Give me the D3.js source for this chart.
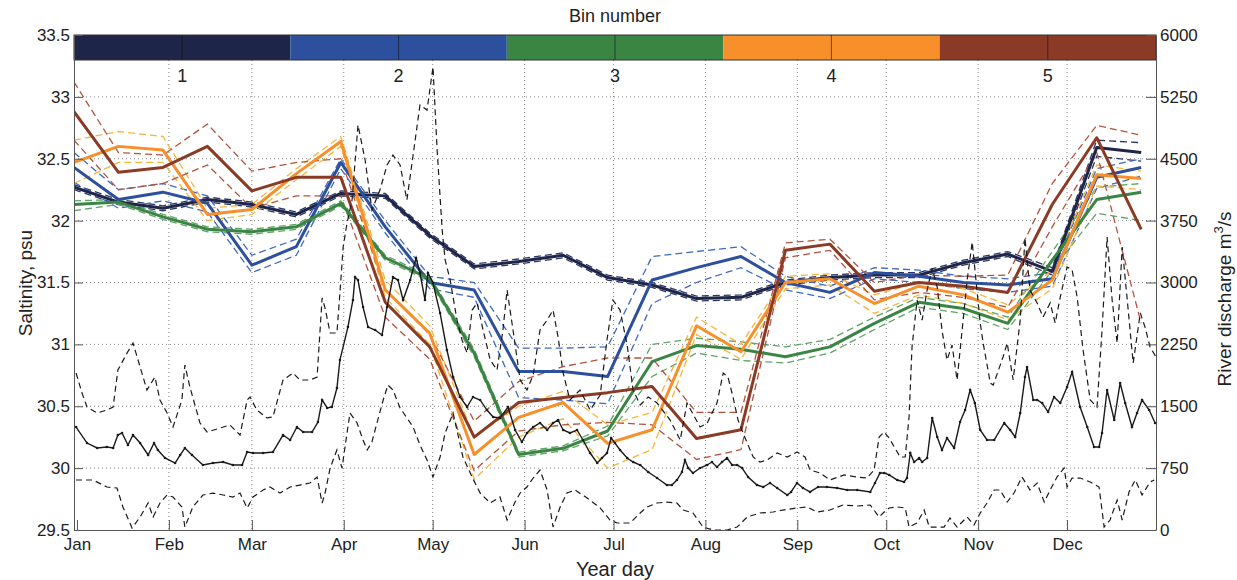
<!DOCTYPE html>
<html>
<head>
<meta charset="utf-8">
<script src="https://cdn.jsdelivr.net/npm/d3@7"></script>
<style>
    body { margin: 0; background: #fff; }
    svg { font-family: "Liberation Sans", Arial, sans-serif; }
</style>
</head>
<body>
<svg id="SVG_CONTAINER" width="1237" height="580"></svg>
<script>
let d3 = window.d3;

// ---- data ----
const months    = ["Jan","Feb","Mar","Apr","May","Jun","Jul","Aug","Sep","Oct","Nov","Dec"];
const monthDays = [1, 32, 60, 91, 121, 152, 182, 213, 244, 274, 305, 335];

const binNames  = ["1", "2", "3", "4", "5"];
const binDays   = [0,15,30,45,60,75,90,105,120,135,150,165,180,195,210,225,240,255,270,285,300,315,330,345,360];

const bin1Mean  = [32.27,32.15,32.10,32.17,32.13,32.05,32.22,32.20,31.88,31.63,31.67,31.72,31.54,31.48,31.37,31.38,31.50,31.54,31.56,31.56,31.66,31.73,31.59,32.59,32.55];
const bin1Upper = [32.29,32.17,32.12,32.19,32.15,32.07,32.24,32.22,31.90,31.65,31.69,31.74,31.56,31.50,31.39,31.40,31.52,31.56,31.58,31.58,31.68,31.75,31.62,32.65,32.63];
const bin1Lower = [32.25,32.13,32.08,32.15,32.11,32.03,32.20,32.18,31.86,31.61,31.65,31.70,31.52,31.46,31.35,31.36,31.48,31.52,31.54,31.54,31.64,31.71,31.56,32.52,32.48];

const bin2Mean  = [32.43,32.17,32.23,32.14,31.64,31.79,32.47,31.95,31.50,31.44,30.78,30.78,30.74,31.52,31.62,31.71,31.50,31.42,31.58,31.55,31.50,31.48,31.53,32.35,32.43];
const bin2Upper = [32.55,32.25,32.30,32.20,31.72,31.85,32.50,32.00,31.55,31.50,30.97,30.97,30.98,31.71,31.75,31.79,31.55,31.47,31.62,31.60,31.55,31.53,31.58,32.42,32.50];
const bin2Lower = [32.31,32.10,32.16,32.07,31.58,31.72,32.42,31.90,31.45,31.38,30.57,30.55,30.52,31.33,31.50,31.62,31.44,31.37,31.53,31.50,31.45,31.42,31.47,32.26,32.36];

const bin3Mean  = [32.13,32.15,32.03,31.93,31.91,31.95,32.14,31.70,31.53,30.93,30.11,30.16,30.30,30.86,30.99,30.96,30.90,30.98,31.17,31.34,31.29,31.17,31.68,32.17,32.23];
const bin3Upper = [32.16,32.17,32.05,31.95,31.93,31.97,32.16,31.72,31.55,30.96,30.13,30.18,30.34,31.00,31.05,31.02,30.98,31.04,31.22,31.38,31.33,31.22,31.75,32.27,32.30];
const bin3Lower = [32.08,32.13,32.01,31.91,31.89,31.93,32.12,31.68,31.51,30.90,30.09,30.14,30.26,30.74,30.93,30.87,30.85,30.93,31.12,31.30,31.25,31.12,31.60,32.06,32.00];

const bin4Mean  = [32.47,32.60,32.57,32.05,32.09,32.38,32.64,31.44,31.09,30.11,30.41,30.53,30.20,30.31,31.15,30.94,31.50,31.53,31.33,31.47,31.40,31.26,31.52,32.37,32.34];
const bin4Upper = [32.65,32.72,32.68,32.10,32.13,32.42,32.68,31.52,31.15,30.25,30.50,30.62,30.35,30.45,31.22,31.00,31.55,31.57,31.40,31.50,31.45,31.32,31.60,32.45,32.40];
const bin4Lower = [32.30,32.47,32.47,32.00,32.05,32.33,32.60,31.38,31.00,29.91,30.25,30.40,30.00,30.15,31.08,30.88,31.45,31.48,31.25,31.40,31.33,31.20,31.45,32.28,32.25];

const bin5Mean  = [32.88,32.39,32.43,32.60,32.24,32.35,32.35,31.34,30.98,30.25,30.53,30.57,30.61,30.66,30.24,30.31,31.76,31.81,31.43,31.50,31.47,31.42,32.13,32.67,31.93];
const bin5Upper = [33.12,32.55,32.53,32.78,32.40,32.47,32.50,31.44,31.08,30.38,30.70,30.82,30.89,30.89,30.45,30.45,31.82,31.85,31.50,31.56,31.55,31.56,32.30,32.77,32.69];
const bin5Lower = [32.65,32.25,32.30,32.45,32.10,32.20,32.20,31.22,30.88,29.98,30.30,30.35,30.37,30.35,30.07,30.15,31.70,31.76,31.36,31.42,31.38,31.30,31.95,32.55,31.17];

// river discharge (day of year, m3/s)
const flowDays = [0.7,4.4,7.8,11.1,13.2,14.8,16.2,18.2,19.9,22.3,25,27,28.3,30.7,34.1,35.8,37.4,39.8,43.5,46.9,50.3,53.6,56.7,58.4,60.4,63.8,67.1,70.5,72.9,75.2,77.3,80.3,82.3,83.7,85.4,87,88.7,89.7,92.4,94.1,94.8,95.8,97.5,99.2,101.6,103.9,105.6,107.6,109.3,111,113.4,115.4,116.7,118.4,119.4,121.1,123.5,125.8,127.9,130.2,132.6,134.6,137,139.3,141.4,143.7,146.4,148.8,151.1,152.8,154.9,157.2,159.6,161.6,163.3,165,167.3,169.7,171.7,174.1,176.5,178.1,179.8,181.2,182.5,184.2,186.6,188.6,191,193.7,196.7,200,201.7,203.4,205.1,206.1,207.2,208.8,211.2,213.6,215.2,216.9,218.6,220.3,222,223.7,225.4,227.4,230.4,232.5,234.8,237.2,240.6,241.9,243.9,245.9,248.3,251,254,257.4,260.8,264.2,268.6,270.2,271.9,273.3,275,277.7,280,281,282.1,283.4,285.1,286.1,287.8,289.5,291.2,292.8,294.5,296.9,298.9,300.6,302.3,303.9,305.7,308,310.4,313.8,315.8,317.5,319.2,320.8,321.5,323.6,324.9,326.6,328.6,330.6,332.7,335,336.7,339.4,341.8,344.1,345.8,346.8,348.5,350.9,352.9,354.6,356.9,358.6,360.3,362.7,364.7];
const flowMean = [1248,1054,994,1006,994,1151,1176,1030,1151,1054,909,1054,970,873,812,909,994,909,788,812,824,788,788,945,933,933,945,1151,1091,1248,1188,1188,1309,1576,1479,1491,1721,2060,2460,2788,3066,3030,2703,2460,2424,2363,2703,3066,3030,2788,3030,3296,3115,2788,3115,2994,2630,2182,1854,1612,1491,1612,1576,1454,1370,1357,1491,1212,1067,1176,1248,1297,1212,1297,1333,1212,1176,1212,1091,933,812,873,933,1115,1054,970,873,824,788,703,630,545,545,606,703,848,751,691,751,788,824,764,824,873,788,788,751,642,545,521,570,509,424,461,570,509,461,521,521,509,485,485,461,570,691,691,667,606,582,630,933,824,873,824,873,1357,1127,970,1115,994,1309,1454,1697,1539,1212,1091,1091,1297,1212,1127,1418,1854,1976,1576,1576,1539,1430,1612,1539,1733,1915,1491,1248,1006,1006,1176,1697,1333,1782,1539,1248,1418,1576,1454,1297];

const upperDays = [0.7,2.7,4.4,7.8,11.1,13.2,14.8,17.9,19.9,22.3,24.6,27.3,29,31.4,33.4,36.4,37.4,39.1,42.5,44.9,49.3,52.6,56,58.4,59.4,61.7,65.1,67.1,70.5,73.9,76.2,79.6,82,83.7,84.7,86.4,88.7,89.7,90.8,92.1,93.8,95.8,98.2,100.5,103.2,105.6,107.6,110,112.3,114.4,116.7,119.1,121.1,122.5,124.2,125.2,126.9,129.2,130.9,132.6,134.3,136,138,140.4,142.7,144.7,146.1,148.1,150.5,152.8,154.9,157.2,159.6,161.6,163.3,165,167.3,170.7,174.1,177.5,179.8,181.8,184.2,186.6,188.6,191,193.7,196.7,201.1,204.5,206.8,211.2,213.6,216.9,219,220.6,222.3,224,225.7,229.1,231.4,233.8,237.2,240.6,243.9,246.6,248.3,251.7,255,259.8,264.2,267.5,269.9,271.6,273.3,275,276.7,278.7,280.4,281.7,282.7,284.4,286.1,287.8,289.5,291.2,292.8,294.5,296.2,297.9,299.6,301.3,303,304.6,305.7,306.7,309.1,310.1,313.4,314.8,316.8,319.2,320.8,322.5,324.9,326.9,329.3,331,332.7,335,336.7,338.4,340.4,342.8,345.1,346.8,348.5,350.2,351.9,353.6,355.3,357.3,359.7,361.3,363,365];
const flowUpper = [1903,1660,1491,1418,1454,1491,1939,2145,2266,1976,1697,1854,1576,1418,1248,1576,2000,1733,1297,1188,1236,1273,1151,1576,1612,1454,1358,1370,1818,1903,1818,1818,1854,2812,2690,2388,2388,2872,3430,3721,4000,4909,4485,3879,4121,4424,4545,4424,4000,4545,5151,5090,5612,4606,3636,3273,3030,2545,2303,2145,2666,2751,2424,2060,1939,2424,2909,2424,1818,1697,1879,2424,2545,2666,2339,1903,1576,1697,1454,1636,2303,2788,2666,2242,1697,1515,1612,1539,1333,1091,1539,1248,1297,1539,1903,1854,1612,1333,1176,885,824,848,933,885,945,885,727,691,606,667,642,630,727,1127,1188,1115,1006,885,885,1370,2218,2788,2545,2909,3175,2945,2424,2060,2242,1818,2424,3030,3490,2909,2509,2266,1782,1757,2097,2266,1818,2545,3539,2909,2751,2581,2751,2509,2824,3188,3151,2824,2182,1576,1491,2424,3551,2788,2266,3430,2788,2024,2630,2460,2218,2097];

const lowerDays = [0.7,6.4,11.1,14.5,16.5,19.6,22.3,25,26.7,29,31.4,33.4,36.4,37.4,40.1,43.5,46.9,50.3,53.6,56,58.4,60.4,63.8,66.1,69.5,72.9,76.2,79.6,82,83.7,84.7,86.4,88.7,90.4,92.1,93.1,95.5,97.5,98.9,100.5,102.2,104.3,105.9,107.6,110,114.4,116.7,119.1,121.1,123.5,125.2,127.9,131.2,134.3,137,140.4,143.7,146.1,148.8,150.5,152.8,154.9,157.2,159.6,161.6,164,166.3,169,173.1,177.5,180.8,183.2,187.6,191,193.3,196.7,200,203.4,205.5,208.8,212.2,215.6,220.3,223.7,227.1,231.4,235.8,239.2,243.9,247.3,250.7,255,259.4,264.2,268.6,271.6,273.3,275,277.7,280.4,281.7,284.4,286.8,288.5,293.5,295.5,297.9,301.3,303.6,305.7,308,310.4,312.4,314.8,317.1,319.8,322.5,324.9,327.3,329.3,331.6,334,335,336.7,339.4,342.8,345.8,347.5,349.5,351.9,353.6,355.9,358,360.3,363,364.4];
const flowLower = [606,606,521,509,279,24,158,327,158,327,424,400,279,36,279,424,448,424,400,448,267,400,485,521,448,521,545,570,642,327,448,751,970,751,1176,1418,1297,1091,970,1067,1297,1576,1757,1697,1479,1248,1030,848,642,885,1176,1418,885,642,448,327,400,121,339,448,521,630,727,485,36,279,448,485,388,267,121,85,85,206,279,327,339,327,242,206,36,0,0,36,158,206,218,242,267,279,218,242,303,291,303,158,218,267,279,267,36,85,242,36,36,145,36,158,61,206,327,485,485,339,448,642,485,570,339,485,642,751,521,630,630,582,521,36,121,364,121,461,606,424,582,606];

// ---- layout ----
const MARGIN = {
    "LEFT": 74,
    "RIGHT": 81,
    "TOP": 35,
    "BOTTOM": 50,
};

const   width  = 1237,
        height = 580;

const CBAR_H = 25;

window.onload = function () {
    setup();
};

let setup = function () {
    let svg = d3.select("#SVG_CONTAINER");
    let Chart = new chart(svg);
};

let chart = function (svg) {

    let bins = [
        { mean: bin1Mean, upper: bin1Upper, lower: bin1Lower, color: "#1e2548", dash: "#2b3563" },
        { mean: bin2Mean, upper: bin2Upper, lower: bin2Lower, color: "#2c4f9e", dash: "#3f69c2" },
        { mean: bin3Mean, upper: bin3Upper, lower: bin3Lower, color: "#3b8544", dash: "#5ea464" },
        { mean: bin4Mean, upper: bin4Upper, lower: bin4Lower, color: "#f7902b", dash: "#f7b53a" },
        { mean: bin5Mean, upper: bin5Upper, lower: bin5Lower, color: "#8b3a26", dash: "#b4533c" },
    ];

    let left = MARGIN.LEFT, right = width - MARGIN.RIGHT;
    let top = MARGIN.TOP, bottom = height - MARGIN.BOTTOM;

    let xScale = d3.scaleLinear().domain([0, 365]).range([left, right]);
    let yScale = d3.scaleLinear().domain([29.5, 33.5]).range([bottom, top]);
    let qScale = d3.scaleLinear().domain([0, 6000]).range([bottom, top]);

    svg.append("defs").append("clipPath").attr("id", "plotClip")
        .append("rect")
        .attr("x", left).attr("y", top)
        .attr("width", right - left).attr("height", bottom - top);

    let g = svg.append("g").attr("class", "plot");

    // grid
    let sTicks = d3.range(30, 33.01, 0.5);
    g.append("g").selectAll("line")
        .data(sTicks)
        .enter().append("line")
            .attr("x1", left).attr("x2", right)
            .attr("y1", d => yScale(d)).attr("y2", d => yScale(d))
            .attr("stroke", "#888").attr("stroke-width", 1)
            .attr("stroke-dasharray", "1,3");

    g.append("g").selectAll("line")
        .data(monthDays.slice(1))
        .enter().append("line")
            .attr("x1", d => xScale(d)).attr("x2", d => xScale(d))
            .attr("y1", top + CBAR_H).attr("y2", bottom)
            .attr("stroke", "#888").attr("stroke-width", 1)
            .attr("stroke-dasharray", "1,3");

    let lines = g.append("g").attr("clip-path", "url(#plotClip)");

    let binLine = arr => d3.line()
        .x((d, i) => xScale(binDays[i]))
        .y(d => yScale(d))(arr);

    // bin bounds (dashed)
    bins.forEach(function (b) {
        [b.upper, b.lower].forEach(function (arr) {
            lines.append("path")
                .attr("d", binLine(arr))
                .attr("fill", "none")
                .attr("stroke", b.dash)
                .attr("stroke-width", 1.3)
                .attr("stroke-dasharray", "7,4");
        });
    });

    // bin means
    bins.forEach(function (b) {
        lines.append("path")
            .attr("d", binLine(b.mean))
            .attr("fill", "none")
            .attr("stroke", b.color)
            .attr("stroke-width", 3)
            .attr("stroke-linejoin", "round");
    });

    // river discharge
    let flowLine = days => d3.line()
        .x((d, i) => xScale(days[i]))
        .y(d => qScale(d));

    lines.append("path")
        .attr("d", flowLine(upperDays)(flowUpper))
        .attr("fill", "none").attr("stroke", "#1a1a1a")
        .attr("stroke-width", 1.2).attr("stroke-dasharray", "6,4");

    lines.append("path")
        .attr("d", flowLine(lowerDays)(flowLower))
        .attr("fill", "none").attr("stroke", "#1a1a1a")
        .attr("stroke-width", 1.2).attr("stroke-dasharray", "6,4");

    lines.append("path")
        .attr("d", flowLine(flowDays)(flowMean))
        .attr("fill", "none").attr("stroke", "#1a1a1a")
        .attr("stroke-width", 1.4);

    lines.selectAll("circle.flow")
        .data(flowMean)
        .enter().append("circle")
            .attr("class", "flow")
            .attr("cx", (d, i) => xScale(flowDays[i]))
            .attr("cy", d => qScale(d))
            .attr("r", 1.3)
            .attr("fill", "#1a1a1a");

    // colorbar
    let cbScale = d3.scaleBand().domain(binNames).range([left, right]);
    let cb = svg.append("g").attr("class", "colorbar");

    cb.selectAll("rect")
        .data(bins)
        .enter().append("rect")
            .attr("x", (d, i) => cbScale(binNames[i]))
            .attr("y", top)
            .attr("width", cbScale.bandwidth())
            .attr("height", CBAR_H)
            .attr("fill", d => d.color);

    cb.selectAll("line")
        .data(binNames)
        .enter().append("line")
            .attr("x1", d => cbScale(d) + cbScale.bandwidth() / 2)
            .attr("x2", d => cbScale(d) + cbScale.bandwidth() / 2)
            .attr("y1", top).attr("y2", top + CBAR_H)
            .attr("stroke", "#111").attr("stroke-opacity", 0.6).attr("stroke-width", 1);

    cb.append("rect")
        .attr("x", left).attr("y", top)
        .attr("width", right - left).attr("height", CBAR_H)
        .attr("fill", "none").attr("stroke", "#333").attr("stroke-width", 1);

    cb.selectAll("text")
        .data(binNames)
        .enter().append("text")
            .attr("x", d => cbScale(d) + cbScale.bandwidth() / 2)
            .attr("y", top + CBAR_H + 22)
            .attr("text-anchor", "middle")
            .style("font-size", "18px")
            .attr("fill", "#222")
            .text(d => d);

    svg.append("text")
        .attr("x", (left + right) / 2)
        .attr("y", 22)
        .attr("text-anchor", "middle")
        .style("font-size", "18px")
        .attr("fill", "#222")
        .text("Bin number");

    // axes
    let axisStyle = function (sel) {
        sel.selectAll("path").attr("stroke", "#555");
        sel.selectAll("line").attr("stroke", "#555");
        sel.selectAll("text").style("font-size", "17px").attr("fill", "#222")
            .style("font-family", "'Liberation Sans', Arial, sans-serif");
    };

    svg.append("g")
        .attr("transform", "translate(" + left + ", 0)")
        .call(d3.axisLeft(yScale)
            .tickValues(d3.range(29.5, 33.51, 0.5))
            .tickFormat(d => String(+d.toFixed(1)))
            .tickSizeInner(-9).tickSizeOuter(0).tickPadding(4))
        .call(axisStyle);

    svg.append("g")
        .attr("transform", "translate(" + right + ", 0)")
        .call(d3.axisRight(qScale)
            .tickValues(d3.range(0, 6001, 750))
            .tickSizeInner(-10).tickSizeOuter(0).tickPadding(4)
            .tickFormat(d => String(d)))
        .call(axisStyle);

    svg.append("g")
        .attr("transform", "translate(0, " + bottom + ")")
        .call(d3.axisBottom(xScale)
            .tickValues(monthDays)
            .tickFormat((d, i) => months[i])
            .tickSizeInner(-10).tickSizeOuter(0).tickPadding(8))
        .call(axisStyle);

    // axis titles
    svg.append("text")
        .attr("x", (left + right) / 2)
        .attr("y", 576)
        .attr("text-anchor", "middle")
        .style("font-size", "20px")
        .attr("fill", "#222")
        .text("Year day");

    svg.append("text")
        .attr("transform", "translate(32, 283)rotate(-90)")
        .attr("text-anchor", "middle")
        .style("font-size", "19px")
        .attr("fill", "#222")
        .text("Saltinity, psu");

    let rt = svg.append("text")
        .attr("transform", "translate(1231, 299)rotate(-90)")
        .attr("text-anchor", "middle")
        .style("font-size", "19px")
        .attr("fill", "#222");
    rt.append("tspan").text("River discharge m");
    rt.append("tspan").attr("dy", "-8").style("font-size", "13px").text("3");
    rt.append("tspan").attr("dy", "8").text("/s");
};
</script>
</body>
</html>
